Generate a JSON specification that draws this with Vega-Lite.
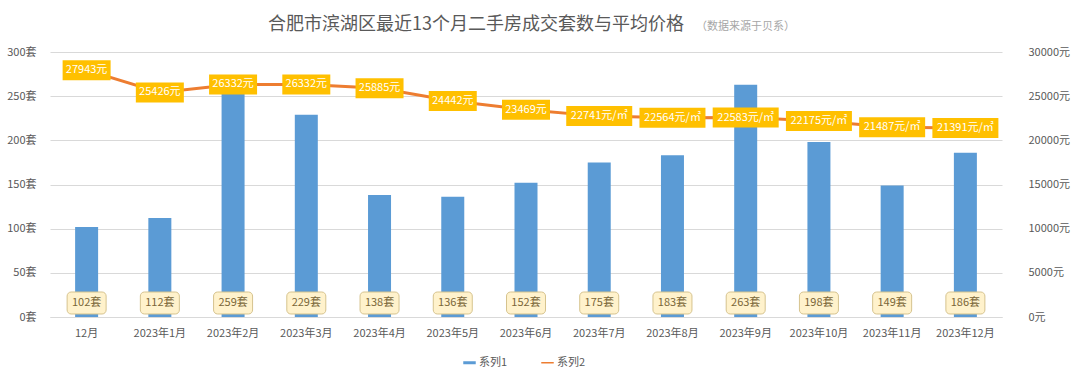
{
  "$schema": "https://vega.github.io/schema/vega-lite/v6.json",
  "width": 952,
  "height": 265,
  "autosize": {"type": "none"},
  "padding": {"left": 50, "top": 52, "right": 78, "bottom": 65},
  "background": "white",
  "config": {
    "font": "Noto Sans CJK SC",
    "view": {"stroke": null},
    "axis": {"labelFont": "Noto Sans CJK SC", "labelFontSize": 11, "labelColor": "#595959"},
    "legend": {"labelFont": "Noto Sans CJK SC"}
  },
  "title": {
    "text": "合肥市滨湖区最近13个月二手房成交套数与平均价格",
    "subtitle": "（数据来源于贝系）",
    "anchor": "start",
    "frame": "group",
    "dx": 218,
    "offset": 12,
    "font": "Noto Sans CJK SC",
    "fontSize": 18,
    "fontWeight": "normal",
    "color": "#595959",
    "subtitleFont": "Noto Sans CJK SC",
    "subtitleFontSize": 11,
    "subtitleColor": "#A6A6A6",
    "subtitlePadding": -13,
    "encode": {"subtitle": {"update": {"dx": {"value": 646}}}}
  },
  "data": {
    "values": [
      {"month": "12月", "sets": 102, "price": 27943, "unit": "元"},
      {"month": "2023年1月", "sets": 112, "price": 25426, "unit": "元"},
      {"month": "2023年2月", "sets": 259, "price": 26332, "unit": "元"},
      {"month": "2023年3月", "sets": 229, "price": 26332, "unit": "元"},
      {"month": "2023年4月", "sets": 138, "price": 25885, "unit": "元"},
      {"month": "2023年5月", "sets": 136, "price": 24442, "unit": "元"},
      {"month": "2023年6月", "sets": 152, "price": 23469, "unit": "元"},
      {"month": "2023年7月", "sets": 175, "price": 22741, "unit": "元/㎡"},
      {"month": "2023年8月", "sets": 183, "price": 22564, "unit": "元/㎡"},
      {"month": "2023年9月", "sets": 263, "price": 22583, "unit": "元/㎡"},
      {"month": "2023年10月", "sets": 198, "price": 22175, "unit": "元/㎡"},
      {"month": "2023年11月", "sets": 149, "price": 21487, "unit": "元/㎡"},
      {"month": "2023年12月", "sets": 186, "price": 21391, "unit": "元/㎡"}
    ]
  },
  "encoding": {
    "x": {
      "field": "month",
      "type": "nominal",
      "sort": null,
      "scale": {"paddingInner": 0, "paddingOuter": 0},
      "axis": {
        "title": null,
        "labelAngle": 0,
        "ticks": false,
        "domain": true,
        "domainColor": "#D9D9D9",
        "labelPadding": 10,
        "grid": false
      }
    }
  },
  "layer": [
    {
      "layer": [
        {
          "mark": {"type": "bar", "width": 23},
          "encoding": {
            "y": {
              "field": "sets",
              "type": "quantitative",
              "scale": {"domain": [0, 300], "nice": false},
              "axis": {
                "orient": "left",
                "title": null,
                "ticks": false,
                "domain": false,
                "grid": true,
                "gridColor": "#D9D9D9",
                "values": [0, 50, 100, 150, 200, 250, 300],
                "labelExpr": "datum.value + '套'",
                "labelPadding": 14
              }
            },
            "color": {
              "datum": "系列1",
              "scale": {"domain": ["系列1", "系列2"], "range": ["#5B9BD5", "#ED7D31"]},
              "legend": {
                "title": null,
                "orient": "none",
                "legendX": 413,
                "legendY": 304,
                "direction": "horizontal",
                "labelFontSize": 11,
                "labelColor": "#595959",
                "labelOffset": 3,
                "columnPadding": 33,
                "symbolSize": 156,
                "symbolStrokeWidth": 0,
                "encode": {
                  "symbols": {
                    "update": {
                      "shape": {"signal": "datum.value === '系列1' ? 'M-1,-0.24H1V0.24H-1Z' : 'M-1,-0.12H1V0.12H-1Z'"},
                      "fill": {"signal": "datum.value === '系列1' ? '#5B9BD5' : '#ED7D31'"},
                      "fillOpacity": {"value": 1},
                      "strokeWidth": {"value": 0}
                    }
                  }
                }
              }
            }
          }
        },
        {
          "mark": {"type": "bar", "width": 39, "cornerRadius": 4, "fill": "#FFF2CC", "stroke": "#D6C38E", "strokeWidth": 1},
          "encoding": {"y": {"datum": 28.3}, "y2": {"datum": 3.4}}
        },
        {
          "mark": {"type": "text", "fontSize": 11, "color": "#7A6638", "baseline": "middle", "text": {"expr": "datum.sets + '套'"}},
          "encoding": {"y": {"datum": 15.8}}
        }
      ]
    },
    {
      "layer": [
        {
          "mark": {"type": "line", "strokeWidth": 3},
          "encoding": {
            "y": {
              "field": "price",
              "type": "quantitative",
              "scale": {"domain": [0, 30000], "nice": false},
              "axis": {
                "orient": "right",
                "title": null,
                "ticks": false,
                "domain": false,
                "grid": false,
                "values": [0, 5000, 10000, 15000, 20000, 25000, 30000],
                "labelExpr": "datum.value + '元'",
                "labelPadding": 26
              }
            },
            "color": {"datum": "系列2"}
          }
        },
        {
          "transform": [{"filter": "datum.unit == '元'"}],
          "mark": {"type": "bar", "width": 48, "fill": "#FFC000", "yOffset": -10, "y2Offset": 10},
          "encoding": {"y": {"field": "price", "type": "quantitative"}, "y2": {"field": "price"}}
        },
        {
          "transform": [{"filter": "datum.unit != '元'"}],
          "mark": {"type": "bar", "width": 66, "fill": "#FFC000", "yOffset": -10, "y2Offset": 10},
          "encoding": {"y": {"field": "price", "type": "quantitative"}, "y2": {"field": "price"}}
        },
        {
          "mark": {"type": "text", "fontSize": 11, "color": "white", "baseline": "middle", "text": {"expr": "datum.price + datum.unit"}},
          "encoding": {"y": {"field": "price", "type": "quantitative"}}
        }
      ]
    }
  ],
  "resolve": {"scale": {"y": "independent"}}
}
